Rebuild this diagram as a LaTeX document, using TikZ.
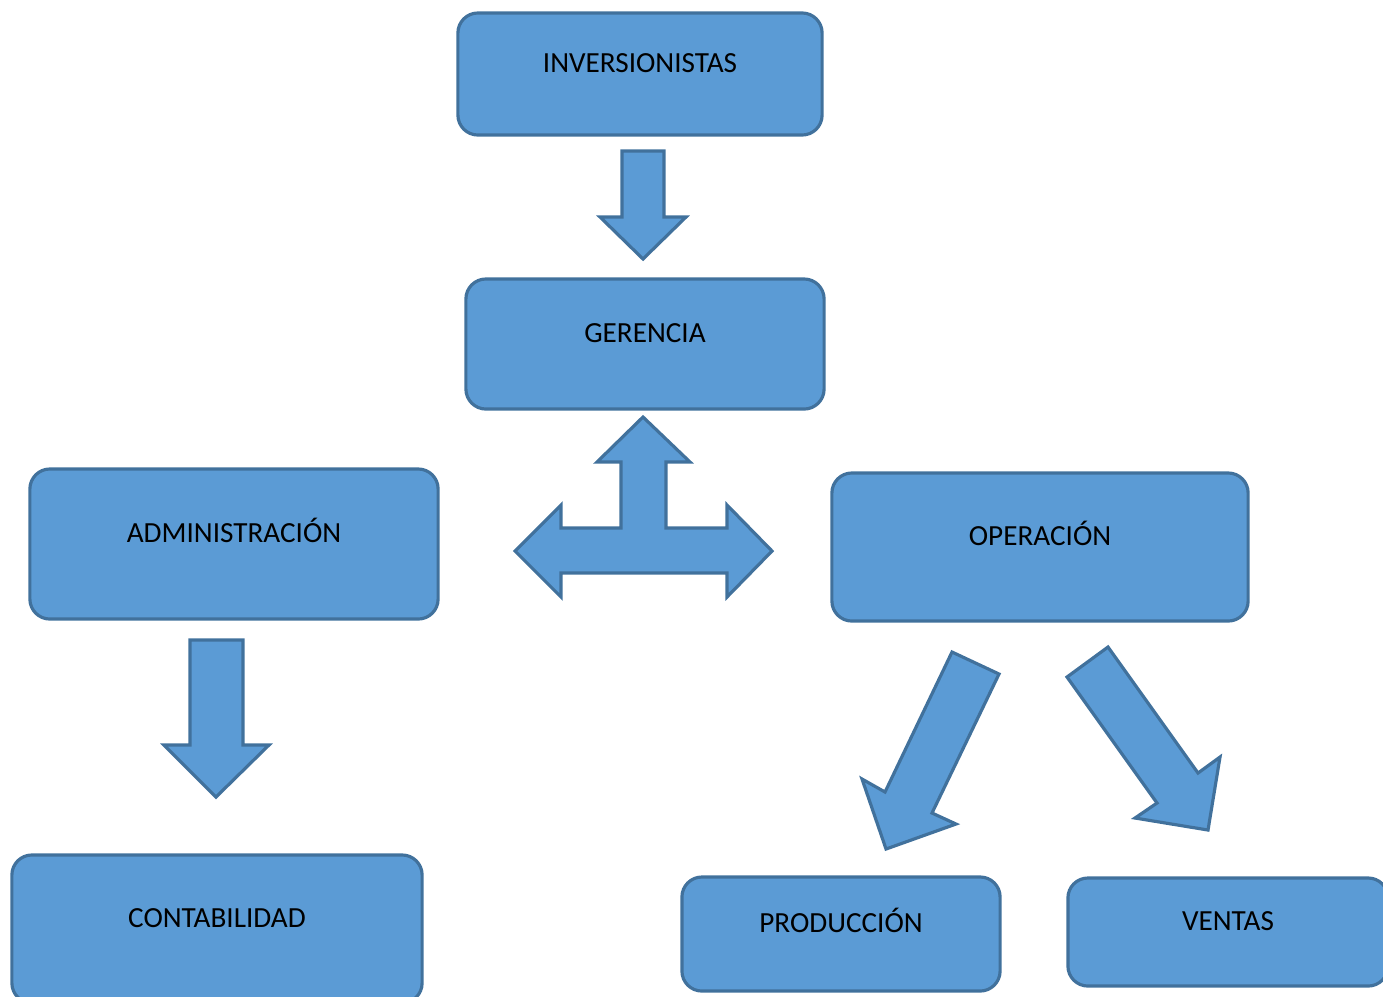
\documentclass[tikz,border=0pt]{standalone}
\usepackage{fontspec}
\setmainfont{Carlito}
\definecolor{boxfill}{HTML}{5B9BD5}
\definecolor{boxline}{HTML}{41719C}
\tikzset{
  caja/.style={draw=boxline, fill=boxfill, line width=0.9pt, rounded corners=0.2cm,
    inner sep=0pt, text height=0.19cm, text depth=0.23cm,
    font=\fontsize{8.3}{10}\selectfont},
  flecha/.style={draw=boxline, fill=boxfill, line width=0.9pt, line join=miter}
}
\begin{document}
\begin{tikzpicture}[x=0.01cm,y=-0.01cm]
\useasboundingbox (0,0) rectangle (1383,996);
% cajas
\node[caja, minimum width=3.64cm, minimum height=1.22cm] (inv) at (640,74) {INVERSIONISTAS};
\node[caja, minimum width=3.58cm, minimum height=1.30cm] (ger) at (645,344) {GERENCIA};
\node[caja, minimum width=4.08cm, minimum height=1.50cm] (adm) at (234,544) {ADMINISTRACIÓN};
\node[caja, minimum width=4.16cm, minimum height=1.48cm] (ope) at (1040,547) {OPERACIÓN};
\node[caja, minimum width=4.10cm, minimum height=1.48cm] (con) at (217,929) {CONTABILIDAD};
\node[caja, minimum width=3.18cm, minimum height=1.14cm] (pro) at (841,934) {PRODUCCIÓN};
\node[caja, minimum width=3.20cm, minimum height=1.08cm] (ven) at (1228,932) {VENTAS};
% flechas
\draw[flecha] (622,151) -- (664,151) -- (664,217) -- (686,217) -- (643,259)
  -- (600,217) -- (622,217) -- cycle;
\draw[flecha] (643,417) -- (690,462) -- (666,462) -- (666,528) -- (727,528)
  -- (727,505) -- (772,551) -- (727,597) -- (727,573) -- (561,573)
  -- (561,597) -- (515,551) -- (561,505) -- (561,528) -- (621,528)
  -- (621,462) -- (597,462) -- cycle;
\draw[flecha] (190,640) -- (243,640) -- (243,745) -- (269,745) -- (216,797)
  -- (164,745) -- (190,745) -- cycle;
\draw[flecha] (952,652) -- (999,674) -- (932,813) -- (956,824) -- (886,849)
  -- (862,779) -- (885,792) -- cycle;
\draw[flecha] (1067,677) -- (1108,647) -- (1198,773) -- (1220,757) -- (1208,830)
  -- (1135,818) -- (1157,803) -- cycle;
\end{tikzpicture}
\end{document}
